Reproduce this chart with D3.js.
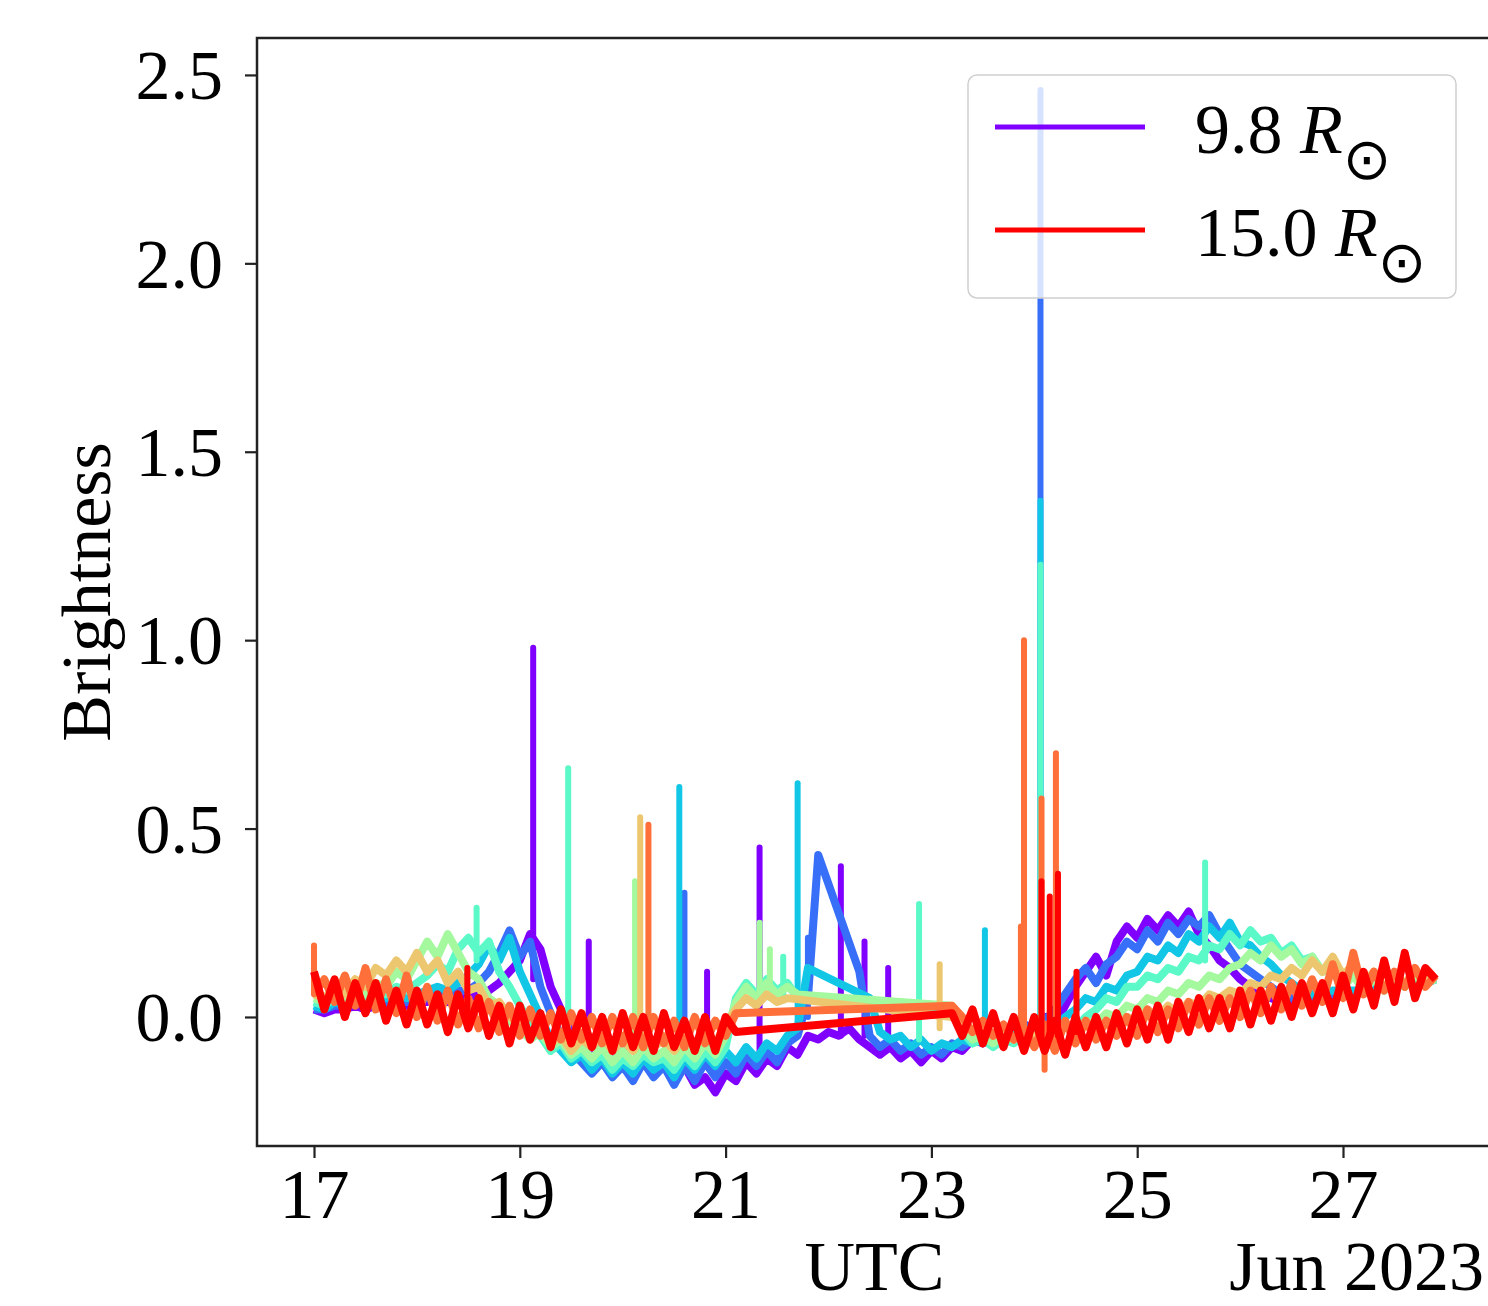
<!DOCTYPE html>
<html>
<head>
<meta charset="utf-8">
<style>
  body { margin: 0; background: #fff; }
  svg text { font-family: "Liberation Serif", "Times New Roman", serif; fill: #000; }
</style>
</head>
<body>
<script src="https://cdn.jsdelivr.net/npm/d3@7"></script>
<script>
// sampling: one value every 2.4 h (0.1 day) from 17 Jun 2023 00:00 UTC
const startDay = '2023-06-17T00:00:00Z';
const stepHours = 2.4;

const radii = [9.8, 10.5, 11.3, 12.0, 12.8, 13.5, 14.3, 15.0];

// rows = one day each (17 ... 27), null = no data (line joins across)
const s0 = [
  0.02, 0.01, 0.02, 0.02, 0.03, 0.02, 0.03, 0.03, 0.04, 0.03,
  0.04, 0.04, 0.05, 0.04, 0.05, 0.05, 0.06, 0.07, 0.09, 0.12,
  0.15, 0.22, 0.18, 0.08, 0.02, -0.04, -0.06, -0.09, -0.07, -0.11,
  -0.09, -0.13, -0.10, -0.15, -0.12, -0.17, -0.13, -0.18, -0.16, -0.20,
  -0.15, -0.17, -0.12, -0.15, -0.11, -0.13, -0.08, -0.10, -0.05, -0.06,
  -0.04, -0.05, -0.03, -0.06, -0.08, -0.10, -0.08, -0.11, -0.09, -0.12,
  -0.09, -0.11, -0.08, -0.09, -0.06, -0.07, -0.05, -0.04, -0.03, -0.02,
  -0.03, 0.00, -0.02, 0.03, 0.08, 0.12, 0.16, 0.11, 0.20, 0.24,
  0.21, 0.26, 0.23, 0.27, 0.24, 0.28, 0.22, 0.19, 0.15, 0.13,
  0.10, 0.08, 0.06, 0.05, 0.04, 0.04, 0.04, 0.05, 0.05, 0.05,
  0.06, 0.06, 0.07, 0.07, 0.08, 0.08, 0.09, 0.09, 0.09, 0.10
];
const s1 = [
  0.02, 0.02, 0.03, 0.03, 0.04, 0.03, 0.04, 0.04, 0.05, 0.04,
  0.05, 0.05, 0.06, 0.06, 0.07, 0.07, 0.09, 0.12, 0.17, 0.23,
  0.16, 0.20, 0.08, 0.01, -0.05, -0.09, -0.12, -0.15, -0.12, -0.16,
  -0.13, -0.17, -0.12, -0.16, -0.13, -0.18, -0.13, -0.17, -0.12, -0.16,
  -0.12, -0.15, -0.10, -0.13, -0.09, -0.12, -0.07, -0.05, 0.05, 0.43,
  null, null, null, 0.12, -0.05, -0.08, -0.06, -0.09, -0.07, -0.10,
  -0.08, -0.10, -0.07, -0.08, -0.06, -0.07, -0.05, -0.04, -0.03, -0.02,
  -0.03, -0.01, 0.02, 0.06, 0.10, 0.13, 0.09, 0.14, 0.16, 0.20,
  0.18, 0.23, 0.20, 0.25, 0.22, 0.26, 0.24, 0.27, 0.22, 0.18,
  0.14, 0.12, 0.10, 0.08, 0.06, 0.05, 0.05, 0.05, 0.06, 0.06,
  0.06, 0.06, 0.07, 0.07, 0.08, 0.08, 0.09, 0.09, 0.09, 0.10
];
const s2 = [
  0.03, 0.02, 0.04, 0.03, 0.05, 0.04, 0.05, 0.05, 0.06, 0.05,
  0.06, 0.07, 0.08, 0.07, 0.09, 0.11, 0.14, 0.19, 0.15, 0.21,
  0.12, 0.06, 0.00, -0.06, -0.09, -0.12, -0.10, -0.14, -0.11, -0.15,
  -0.12, -0.15, -0.11, -0.14, -0.12, -0.16, -0.11, -0.14, -0.10, -0.13,
  -0.09, -0.12, -0.08, -0.11, -0.07, -0.09, -0.05, -0.03, 0.13, null,
  null, null, null, null, 0.05, -0.04, -0.06, -0.05, -0.08, -0.06,
  -0.09, -0.07, -0.08, -0.06, -0.07, -0.05, -0.06, -0.04, -0.05, -0.03,
  -0.04, -0.02, -0.03, 0.00, 0.02, 0.05, 0.04, 0.08, 0.07, 0.11,
  0.12, 0.16, 0.15, 0.19, 0.17, 0.22, 0.20, 0.24, 0.21, 0.25,
  0.20, 0.19, 0.16, 0.14, 0.11, 0.09, 0.07, 0.06, 0.06, 0.07,
  0.07, 0.07, 0.07, 0.08, 0.08, 0.08, 0.09, 0.09, 0.09, 0.10
];
const s3 = [
  0.04, 0.03, 0.05, 0.04, 0.06, 0.05, 0.07, 0.06, 0.08, 0.07,
  0.09, 0.11, 0.14, 0.12, 0.18, 0.21, 0.17, 0.20, 0.12, 0.08,
  0.03, -0.02, -0.05, -0.09, -0.07, -0.11, -0.09, -0.12, -0.10, -0.14,
  -0.11, -0.13, -0.10, -0.12, -0.11, -0.14, -0.10, -0.13, -0.09, -0.12,
  -0.08, 0.05, 0.09, 0.06, 0.10, 0.07, 0.09, 0.05, null, null,
  null, null, null, null, null, null, null, null, null, null,
  null, null, 0.02, -0.04, -0.07, -0.06, -0.08, -0.06, -0.07, -0.05,
  -0.06, -0.04, -0.05, -0.02, -0.03, 0.00, 0.02, 0.05, 0.04, 0.08,
  0.08, 0.11, 0.10, 0.13, 0.12, 0.16, 0.15, 0.19, 0.18, 0.22,
  0.19, 0.23, 0.20, 0.21, 0.17, 0.19, 0.15, 0.16, 0.12, 0.13,
  0.10, 0.11, 0.09, 0.10, 0.07, 0.09, 0.08, 0.10, 0.09, 0.10
];
const s4 = [
  0.05, 0.04, 0.06, 0.05, 0.08, 0.06, 0.09, 0.08, 0.12, 0.10,
  0.15, 0.20, 0.16, 0.22, 0.17, 0.12, 0.10, 0.05, 0.03, -0.01,
  -0.03, -0.06, -0.04, -0.08, -0.06, -0.10, -0.08, -0.11, -0.08, -0.12,
  -0.09, -0.12, -0.08, -0.11, -0.09, -0.12, -0.08, -0.11, -0.07, -0.10,
  -0.05, 0.04, 0.08, 0.05, 0.09, 0.06, 0.08, 0.06, null, null,
  null, null, null, null, null, null, null, null, null, null,
  null, null, 0.03, -0.03, -0.06, -0.05, -0.07, -0.05, -0.06, -0.04,
  -0.05, -0.03, -0.05, -0.02, -0.04, -0.01, -0.02, 0.01, 0.00, 0.03,
  0.02, 0.05, 0.04, 0.07, 0.06, 0.09, 0.08, 0.11, 0.10, 0.13,
  0.14, 0.17, 0.15, 0.19, 0.16, 0.18, 0.14, 0.16, 0.12, 0.14,
  0.08, 0.11, 0.07, 0.10, 0.07, 0.10, 0.08, 0.11, 0.09, 0.10
];
const s5 = [
  0.06, 0.05, 0.08, 0.06, 0.10, 0.08, 0.13, 0.11, 0.15, 0.12,
  0.17, 0.12, 0.15, 0.09, 0.12, 0.07, 0.08, 0.03, 0.04, 0.00,
  -0.02, -0.05, -0.03, -0.07, -0.05, -0.09, -0.06, -0.08, -0.05, -0.09,
  -0.06, -0.09, -0.05, -0.08, -0.06, -0.09, -0.05, -0.08, -0.04, -0.07,
  -0.02, 0.02, 0.05, 0.03, 0.06, 0.04, 0.05, null, null, null,
  null, null, null, null, null, null, null, null, null, null,
  null, null, 0.00, -0.02, -0.04, -0.03, -0.05, -0.04, -0.06, -0.04,
  -0.05, -0.03, -0.06, -0.02, -0.05, -0.02, -0.04, -0.01, -0.03, 0.00,
  -0.01, 0.02, 0.00, 0.03, 0.01, 0.04, 0.03, 0.06, 0.05, 0.07,
  0.06, 0.09, 0.08, 0.11, 0.10, 0.13, 0.11, 0.15, 0.12, 0.16,
  0.11, 0.14, 0.09, 0.12, 0.08, 0.11, 0.09, 0.12, 0.10, 0.11
];
const s6 = [
  0.06, 0.10, 0.04, 0.11, 0.03, 0.13, 0.02, 0.10, 0.01, 0.11,
  0.00, 0.08, -0.01, 0.07, -0.02, 0.05, -0.03, 0.04, -0.04, 0.03,
  -0.05, 0.02, -0.05, 0.01, -0.06, 0.01, -0.06, 0.00, -0.07, 0.00,
  -0.07, 0.00, -0.08, 0.00, -0.07, -0.01, -0.08, 0.00, -0.07, -0.01,
  -0.05, 0.01, null, null, null, null, null, null, null, null,
  null, null, null, null, null, null, null, null, null, null,
  null, null, 0.03, 0.00, -0.04, -0.01, -0.05, -0.02, -0.06, -0.03,
  -0.08, -0.02, -0.09, -0.01, -0.07, -0.01, -0.06, -0.01, -0.05, 0.00,
  -0.05, 0.02, -0.04, 0.02, -0.03, 0.04, -0.02, 0.05, -0.01, 0.05,
  0.00, 0.07, 0.01, 0.08, 0.02, 0.09, 0.03, 0.10, 0.04, 0.14,
  0.05, 0.17, 0.06, 0.12, 0.07, 0.12, 0.08, 0.13, 0.08, 0.11
];
const s7 = [
  0.12, 0.02, 0.10, 0.00, 0.09, 0.01, 0.09, -0.01, 0.07, -0.02,
  0.07, -0.02, 0.06, -0.04, 0.06, -0.03, 0.05, -0.05, 0.03, -0.07,
  0.03, -0.06, 0.01, -0.08, 0.02, -0.07, 0.01, -0.08, 0.00, -0.09,
  0.01, -0.08, 0.00, -0.09, 0.01, -0.08, -0.01, -0.09, 0.00, -0.09,
  0.00, -0.04, null, null, null, null, null, null, null, null,
  null, null, null, null, null, null, null, null, null, null,
  null, null, 0.01, -0.05, 0.02, -0.07, 0.01, -0.08, 0.00, -0.09,
  0.00, -0.09, -0.01, -0.10, 0.00, -0.08, 0.00, -0.08, 0.01, -0.07,
  0.02, -0.06, 0.03, -0.06, 0.04, -0.04, 0.05, -0.03, 0.05, -0.03,
  0.07, -0.02, 0.07, -0.01, 0.08, 0.00, 0.09, 0.01, 0.09, 0.01,
  0.11, 0.02, 0.12, 0.03, 0.15, 0.04, 0.17, 0.05, 0.13, 0.10
];
const series = [s0, s1, s2, s3, s4, s5, s6, s7];

// isolated spikes: [series index, day of June, foot, peak]
const spikes = [
  [6, 17.00, 0.06, 0.19],
  [7, 18.49, 0.00, 0.13],
  [3, 18.58, 0.15, 0.29],
  [0, 19.13, 0.10, 0.98],
  [3, 19.47, -0.05, 0.66],
  [0, 19.67, 0.00, 0.20],
  [4, 20.12, -0.05, 0.36],
  [5, 20.17, -0.05, 0.53],
  [6, 20.25, -0.04, 0.51],
  [2, 20.55, -0.10, 0.61],
  [1, 20.60, -0.10, 0.33],
  [0, 20.82, -0.05, 0.12],
  [0, 21.33, -0.10, 0.45],
  [4, 21.33, 0.05, 0.25],
  [4, 21.43, 0.05, 0.18],
  [3, 21.56, 0.05, 0.16],
  [2, 21.70, -0.03, 0.62],
  [1, 21.80, 0.00, 0.21],
  [0, 22.12, -0.05, 0.40],
  [0, 22.35, -0.05, 0.20],
  [0, 22.58, -0.05, 0.13],
  [3, 22.88, -0.06, 0.30],
  [5, 23.08, -0.03, 0.14],
  [2, 23.52, -0.05, 0.23],
  [6, 23.87, -0.02, 0.24],
  [6, 23.90, -0.02, 1.00],
  [1, 24.06, -0.02, 2.46],
  [2, 24.06, -0.02, 1.37],
  [3, 24.06, -0.02, 1.20],
  [6, 24.07, -0.05, 0.58],
  [7, 24.07, -0.05, 0.36],
  [6, 24.10, -0.14, -0.02],
  [7, 24.15, -0.05, 0.32],
  [6, 24.21, -0.05, 0.70],
  [7, 24.23, -0.05, 0.38],
  [7, 24.41, -0.04, 0.12],
  [3, 25.66, 0.15, 0.41]
];

const yTicks = [0, 0.5, 1.0, 1.5, 2.0, 2.5];
const xLimits = [16.446, 28.448];
const yLimits = [-0.3424, 2.598];

const W = 1488, H = 1306;
const box = { left: 257, right: 1492, top: 38, bottom: 1146 };
const fontSize = 70;

const t0 = Date.parse(startDay);
const dayToDate = (d) => new Date(t0 + (d - 17) * 864e5);

// matplotlib "rainbow" colormap
function rainbow(f) {
  const c = (v) => Math.round(255 * Math.max(0, Math.min(1, v)));
  return d3.rgb(c(Math.abs(2 * f - 0.5)), c(Math.sin(Math.PI * f)), c(Math.cos(Math.PI * f / 2))).formatHex();
}
const color = (k) => rainbow(k / (series.length - 1));

const x = d3.scaleUtc()
  .domain(xLimits.map(dayToDate))
  .range([box.left, box.right]);

const y = d3.scaleLinear()
  .domain(yLimits)
  .range([box.bottom, box.top]);

const svg = d3.select('body')
  .append('svg')
  .attr('width', W)
  .attr('height', H);

svg.append('defs').append('clipPath').attr('id', 'plotclip')
  .append('rect')
  .attr('x', box.left).attr('y', box.top)
  .attr('width', box.right - box.left).attr('height', box.bottom - box.top);

const plot = svg.append('g').attr('clip-path', 'url(#plotclip)');

const line = d3.line()
  .x((d) => x(d.date))
  .y((d) => y(d.value));

series.forEach((vals, k) => {
  const pts = vals
    .map((v, i) => ({ date: new Date(t0 + i * stepHours * 36e5), value: v }))
    .filter((p) => p.value !== null);

  const g = plot.append('g');
  g.append('path')
    .datum(pts)
    .attr('d', line)
    .attr('fill', 'none')
    .attr('stroke', color(k))
    .attr('stroke-width', 8)
    .attr('stroke-linejoin', 'round');

  g.selectAll('line')
    .data(spikes.filter((s) => s[0] === k))
    .join('line')
    .attr('x1', (d) => x(dayToDate(d[1])))
    .attr('x2', (d) => x(dayToDate(d[1])))
    .attr('y1', (d) => y(d[2]))
    .attr('y2', (d) => y(d[3]))
    .attr('stroke', color(k))
    .attr('stroke-width', 6)
    .attr('stroke-linecap', 'round');
});

// axes
const xAxis = svg.append('g')
  .attr('transform', `translate(0,${box.bottom})`)
  .call(d3.axisBottom(x)
    .ticks(d3.utcDay.every(2))
    .tickFormat(d3.utcFormat('%-d'))
    .tickSize(12)
    .tickPadding(10));

const yAxis = svg.append('g')
  .attr('transform', `translate(${box.left},0)`)
  .call(d3.axisLeft(y)
    .tickValues(yTicks)
    .tickFormat(d3.format('.1f'))
    .tickSize(12)
    .tickPadding(22));

[xAxis, yAxis].forEach((a) => {
  a.attr('font-family', null).attr('font-size', null);
  a.select('.domain').remove();
  a.selectAll('.tick line').attr('stroke', '#222').attr('stroke-width', 2.2);
  a.selectAll('.tick text').style('font-size', fontSize + 'px').attr('fill', '#000');
});
yAxis.selectAll('.tick text').attr('dy', '0.34em');

// spines
svg.append('rect')
  .attr('x', box.left).attr('y', box.top)
  .attr('width', box.right - box.left).attr('height', box.bottom - box.top)
  .attr('fill', 'none')
  .attr('stroke', '#222')
  .attr('stroke-width', 2.5);

// labels
svg.append('text')
  .attr('x', (box.left + box.right) / 2)
  .attr('y', 1290)
  .attr('text-anchor', 'middle')
  .style('font-size', fontSize + 'px')
  .text('UTC');

svg.append('text')
  .attr('x', 1484)
  .attr('y', 1290)
  .attr('text-anchor', 'end')
  .style('font-size', fontSize + 'px')
  .text('Jun 2023');

svg.append('text')
  .attr('transform', `translate(110,${(box.top + box.bottom) / 2}) rotate(-90)`)
  .attr('text-anchor', 'middle')
  .style('font-size', fontSize + 'px')
  .text('Brightness');

// legend
const legend = svg.append('g');
legend.append('rect')
  .attr('x', 968).attr('y', 75)
  .attr('width', 488).attr('height', 223)
  .attr('rx', 9)
  .attr('fill', '#fff')
  .attr('fill-opacity', 0.8)
  .attr('stroke', '#d0d0d0')
  .attr('stroke-width', 1.5);

const legendItems = [
  { r: radii[0], c: color(0), ly: 127, ty: 153 },
  { r: radii[radii.length - 1], c: color(series.length - 1), ly: 230, ty: 256 }
];

legendItems.forEach((it) => {
  legend.append('line')
    .attr('x1', 995).attr('x2', 1145)
    .attr('y1', it.ly).attr('y2', it.ly)
    .attr('stroke', it.c)
    .attr('stroke-width', 5);
  const t = legend.append('text')
    .attr('x', 1195)
    .attr('y', it.ty)
    .style('font-size', fontSize + 'px');
  t.append('tspan').text(d3.format('.1f')(it.r) + ' ');
  t.append('tspan').style('font-style', 'italic').text('R');
  t.append('tspan')
    .attr('dy', 26)
    .attr('dx', 0)
    .style('font-family', '"DejaVu Sans", sans-serif')
    .style('font-size', '58px')
    .text('\u2299');
});
</script>
</body>
</html>
